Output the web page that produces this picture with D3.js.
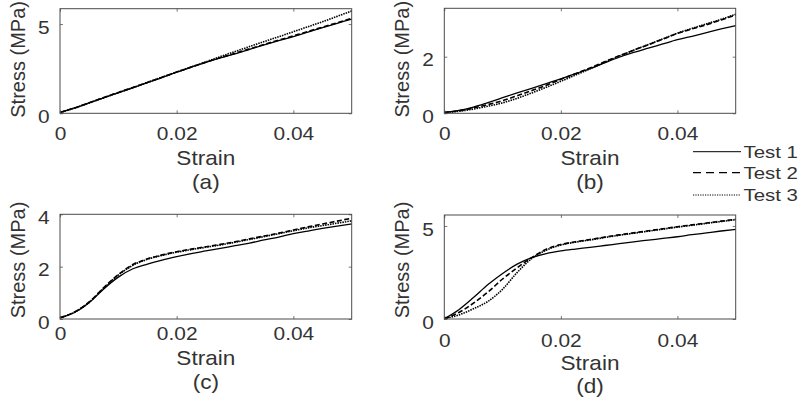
<!DOCTYPE html>
<html>
<head>
<meta charset="utf-8">
<script src="https://cdn.jsdelivr.net/npm/d3@7"></script>
<style>
  body { margin: 0; background: #fff; }
  text { font-family: "Liberation Sans", Arial, Helvetica, sans-serif; fill: #333; }
</style>
</head>
<body>
<svg id="fig" width="803" height="404"></svg>
<script>
// Strain samples shared by every test trace
const strain = [0, 0.0025, 0.005, 0.0075, 0.01, 0.0125, 0.015, 0.0175, 0.02, 0.0225, 0.025,
                0.0275, 0.03, 0.0325, 0.035, 0.0375, 0.04, 0.0425, 0.045, 0.0475, 0.05];

const seriesNames = ["Test 1", "Test 2", "Test 3"];
const panelCaptions = ["(a)", "(b)", "(c)", "(d)"];
const xTickValues = [0, 0.02, 0.04];
const yTicksA = [0, 5];
const yTicksB = [0, 2];
const yTicksC = [0, 2, 4];
const yTicksD = [0, 5];

// Stress (MPa) for specimen (a)
const aTest1 = [0.05, 0.30, 0.58, 0.87, 1.15, 1.43, 1.72, 2.00, 2.30, 2.58, 2.85, 3.10, 3.33, 3.58, 3.83, 4.07, 4.30, 4.55, 4.80, 5.04, 5.28];
const aTest2 = [0.04, 0.30, 0.59, 0.88, 1.17, 1.45, 1.73, 2.02, 2.31, 2.59, 2.86, 3.12, 3.36, 3.61, 3.86, 4.10, 4.34, 4.58, 4.83, 5.07, 5.32];
const aTest3 = [0.03, 0.29, 0.58, 0.87, 1.16, 1.44, 1.73, 2.02, 2.31, 2.60, 2.88, 3.18, 3.46, 3.74, 4.02, 4.29, 4.57, 4.85, 5.13, 5.43, 5.73];

// Stress (MPa) for specimen (b)
const bTest1 = [0.03, 0.10, 0.22, 0.38, 0.55, 0.72, 0.88, 1.05, 1.22, 1.40, 1.58, 1.78, 1.98, 2.15, 2.30, 2.45, 2.60, 2.72, 2.85, 2.98, 3.10];
const bTest2 = [0.03, 0.09, 0.19, 0.31, 0.45, 0.62, 0.80, 0.99, 1.20, 1.40, 1.60, 1.82, 2.03, 2.23, 2.42, 2.62, 2.82, 2.98, 3.13, 3.30, 3.47];
const bTest3 = [0.02, 0.07, 0.15, 0.25, 0.37, 0.53, 0.72, 0.92, 1.13, 1.35, 1.57, 1.80, 2.02, 2.23, 2.43, 2.63, 2.83, 3.00, 3.16, 3.32, 3.50];

// Stress (MPa) for specimen (c)
const cTest1 = [0.05, 0.25, 0.62, 1.15, 1.60, 1.92, 2.10, 2.25, 2.38, 2.50, 2.60, 2.70, 2.80, 2.90, 3.02, 3.13, 3.26, 3.36, 3.46, 3.55, 3.63];
const cTest2 = [0.05, 0.27, 0.65, 1.20, 1.70, 2.08, 2.30, 2.45, 2.57, 2.67, 2.76, 2.85, 2.95, 3.06, 3.17, 3.28, 3.40, 3.52, 3.63, 3.74, 3.85];
const cTest3 = [0.04, 0.26, 0.64, 1.18, 1.68, 2.05, 2.28, 2.43, 2.55, 2.65, 2.74, 2.83, 2.93, 3.04, 3.15, 3.26, 3.37, 3.48, 3.57, 3.66, 3.75];

// Stress (MPa) for specimen (d)
const dTest1 = [0.02, 0.50, 1.15, 1.85, 2.45, 2.95, 3.30, 3.52, 3.66, 3.76, 3.85, 3.95, 4.05, 4.15, 4.24, 4.33, 4.42, 4.53, 4.63, 4.73, 4.82];
const dTest2 = [0.02, 0.35, 0.85, 1.45, 2.15, 2.75, 3.30, 3.75, 4.00, 4.15, 4.27, 4.40, 4.52, 4.63, 4.74, 4.85, 4.96, 5.06, 5.16, 5.26, 5.36];
const dTest3 = [0.02, 0.22, 0.55, 0.95, 1.60, 2.50, 3.25, 3.70, 3.98, 4.13, 4.25, 4.38, 4.50, 4.61, 4.72, 4.83, 4.94, 5.04, 5.14, 5.24, 5.34];

// Axis limits and the series drawn in each panel
const panelData = [
  { series: [aTest1, aTest2, aTest3], yMax: 5.86, yTicks: yTicksA },
  { series: [bTest1, bTest2, bTest3], yMax: 3.71, yTicks: yTicksB },
  { series: [cTest1, cTest2, cTest3], yMax: 4.0,  yTicks: yTicksC },
  { series: [dTest1, dTest2, dTest3], yMax: 5.59, yTicks: yTicksD }
];

// Panel placement: box edges and baselines of the text under each box
const layout = [
  { x0: 60,    y0: 8.7,   x1: 351.7, y1: 113.3, tickPad: 13.6, xlabY: 165,   capY: 189,   ylabY: 59.4 },
  { x0: 444.3, y0: 8.3,   x1: 735.7, y1: 113.3, tickPad: 13.6, xlabY: 165,   capY: 189,   ylabY: 59.2 },
  { x0: 60,    y0: 214.3, x1: 351.7, y1: 319,   tickPad: 8.2,  xlabY: 365,   capY: 389,   ylabY: 260 },
  { x0: 444.3, y0: 215,   x1: 735.7, y1: 319,   tickPad: 14.6, xlabY: 370,   capY: 392.7, ylabY: 260 }
];

const lineStyles = [
  { width: 1.3, dash: null },
  { width: 1.6, dash: "5,2.5" },
  { width: 1.6, dash: "1.5,1" }
];

const SX = 1.13;          // horizontal text stretch
const tickFont = 18.5;
const labelFont = 20;

const svg = d3.select("#fig");

function stretchText(sel, s) {
  sel.each(function () {
    const t = d3.select(this);
    const x = +t.attr("x") || 0;
    t.attr("x", x / s).attr("transform", `scale(${s},1)`);
  });
}

panelData.forEach((pd, i) => {
  const L = layout[i];
  const g = svg.append("g");
  const x = d3.scaleLinear().domain([0, 0.05]).range([L.x0, L.x1]);
  const y = d3.scaleLinear().domain([0, pd.yMax]).range([L.y1, L.y0]);

  // traces
  const line = d3.line().x((d, k) => x(strain[k])).y(d => y(d)).curve(d3.curveMonotoneX);
  pd.series.forEach((vals, s) => {
    g.append("path")
      .attr("d", line(vals))
      .attr("fill", "none")
      .attr("stroke", "#000")
      .attr("stroke-width", lineStyles[s].width)
      .attr("stroke-dasharray", lineStyles[s].dash)
      .attr("stroke-linejoin", "round");
  });

  // axes with inward ticks
  const bottom = g.append("g").attr("transform", `translate(0,${L.y1})`)
    .call(d3.axisBottom(x).tickValues(xTickValues).tickSize(-3).tickPadding(L.tickPad).tickFormat(d => String(d)));
  const top = g.append("g").attr("transform", `translate(0,${L.y0})`)
    .call(d3.axisTop(x).tickValues(xTickValues).tickSize(-3).tickFormat(""));
  const left = g.append("g").attr("transform", `translate(${L.x0},0)`)
    .call(d3.axisLeft(y).tickValues(pd.yTicks).tickSize(-3).tickPadding(10.5).tickFormat(d => String(d)));
  const right = g.append("g").attr("transform", `translate(${L.x1},0)`)
    .call(d3.axisRight(y).tickValues(pd.yTicks).tickSize(-3).tickFormat(""));

  [bottom, top, left, right].forEach(a => {
    a.select(".domain").remove();
    a.selectAll(".tick line").attr("stroke", "#555").attr("stroke-width", 0.8);
    a.selectAll("text").style("font-size", tickFont + "px").attr("fill", "#333");
  });
  left.selectAll("text").attr("dy", "0.5em");
  stretchText(bottom.selectAll("text"), SX);
  stretchText(left.selectAll("text"), SX);

  // box
  g.append("rect")
    .attr("x", L.x0).attr("y", L.y0)
    .attr("width", L.x1 - L.x0).attr("height", L.y1 - L.y0)
    .attr("fill", "none").attr("stroke", "#4a4a4a").attr("stroke-width", 1);

  const cx = (L.x0 + L.x1) / 2;
  // x label
  g.append("text")
    .attr("transform", `translate(${cx},${L.xlabY}) scale(${SX},1)`)
    .attr("text-anchor", "middle")
    .style("font-size", labelFont + "px")
    .text("Strain");
  // caption
  g.append("text")
    .attr("transform", `translate(${cx},${L.capY}) scale(${SX},1)`)
    .attr("text-anchor", "middle")
    .style("font-size", labelFont + "px")
    .text(panelCaptions[i]);
  // y label
  g.append("text")
    .attr("transform", `translate(${L.x0 - 40.5},${L.ylabY}) rotate(-90)`)
    .attr("text-anchor", "middle")
    .attr("dy", "0.25em")
    .style("font-size", labelFont + "px")
    .text("Stress (MPa)");
});

// legend
const legendY = [151.7, 172.7, 195];
const legend = svg.append("g");
seriesNames.forEach((name, s) => {
  legend.append("line")
    .attr("x1", 693).attr("x2", 741)
    .attr("y1", legendY[s]).attr("y2", legendY[s])
    .attr("stroke", "#000")
    .attr("stroke-width", s === 0 ? 1 : 1.2)
    .attr("stroke-dasharray", s === 1 ? "8,5" : (s === 2 ? "1.2,1.2" : null));
  legend.append("text")
    .attr("transform", `translate(743.5,${legendY[s] + 6.3}) scale(1.2,1)`)
    .style("font-size", "17px")
    .text(name);
});
</script>
</body>
</html>
